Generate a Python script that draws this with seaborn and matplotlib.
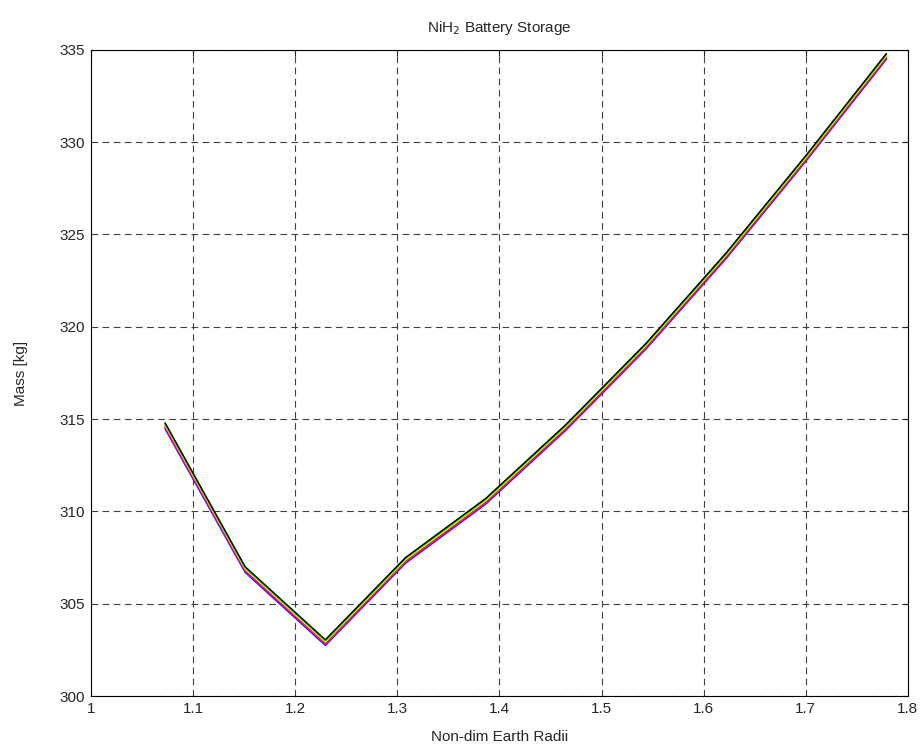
import pandas as pd
import matplotlib
matplotlib.use('Agg')
import matplotlib.pyplot as plt
import seaborn as sns

# Data
radii = [1.0725, 1.151, 1.2295, 1.308, 1.3865, 1.465, 1.5435, 1.622, 1.7005, 1.779]

mass_black = [314.80, 307.00, 303.05, 307.50, 310.70, 314.70, 319.10, 324.00, 329.30, 334.80]
mass_green = [314.74, 306.94, 302.99, 307.44, 310.64, 314.64, 319.04, 323.94, 329.24, 334.74]
mass_yellow = [314.68, 306.88, 302.93, 307.38, 310.58, 314.58, 318.98, 323.88, 329.18, 334.68]
mass_red = [314.62, 306.82, 302.87, 307.32, 310.52, 314.52, 318.92, 323.82, 329.12, 334.62]
mass_magenta = [314.54, 306.76, 302.81, 307.26, 310.46, 314.46, 318.86, 323.76, 329.06, 334.56]
mass_blue = [314.48, 306.70, 302.75, 307.20, 310.40, 314.40, 318.80, 323.70, 329.00, 334.50]

series = {
    'black': mass_black,
    'green': mass_green,
    'yellow': mass_yellow,
    'red': mass_red,
    'magenta': mass_magenta,
    'blue': mass_blue,
}
colors = {'black': '#000000', 'green': '#00ff00', 'yellow': '#ffff00',
          'red': '#ff0000', 'magenta': '#ff00ff', 'blue': '#0000ff'}

rows = []
for name, vals in series.items():
    for r, m in zip(radii, vals):
        rows.append({'radius': r, 'mass': m, 'line': name})
df = pd.DataFrame(rows)

sns.set_style('white')
plt.rcParams['font.family'] = ['Liberation Sans', 'DejaVu Sans']
plt.rcParams['font.size'] = 11

fig = plt.figure(figsize=(9.22, 7.55), dpi=100)
ax = fig.add_axes([0.0987, 0.078, 0.886, 0.856])

# draw bottom line first so black ends up on top
order = ['blue', 'magenta', 'red', 'yellow', 'green', 'black']
for name in order:
    sns.lineplot(data=df[df['line'] == name], x='radius', y='mass',
                 color=colors[name], linewidth=1.1, ax=ax, legend=False)

ax.set_xlim(1, 1.8)
ax.set_ylim(300, 335)
ax.set_xticks([1, 1.1, 1.2, 1.3, 1.4, 1.5, 1.6, 1.7, 1.8])
ax.set_xticklabels(['1', '1.1', '1.2', '1.3', '1.4', '1.5', '1.6', '1.7', '1.8'])
ax.set_yticks(range(300, 336, 5))

ax.grid(True, color='0.25', linestyle=(0, (6, 4)), linewidth=0.8)
ax.set_axisbelow(True)
ax.tick_params(direction='in', top=True, right=True, length=4, labelsize=11, pad=4)
for s in ax.spines.values():
    s.set_color('black')
    s.set_linewidth(0.8)

# labeling
ax.set_title('NiH$_2$ Battery Storage', fontsize=11, pad=13)
ax.set_xlabel('Non-dim Earth Radii', fontsize=11, labelpad=10)
ax.set_ylabel('Mass [kg]', fontsize=11, labelpad=23)

fig.savefig('out.png', dpi=100)
